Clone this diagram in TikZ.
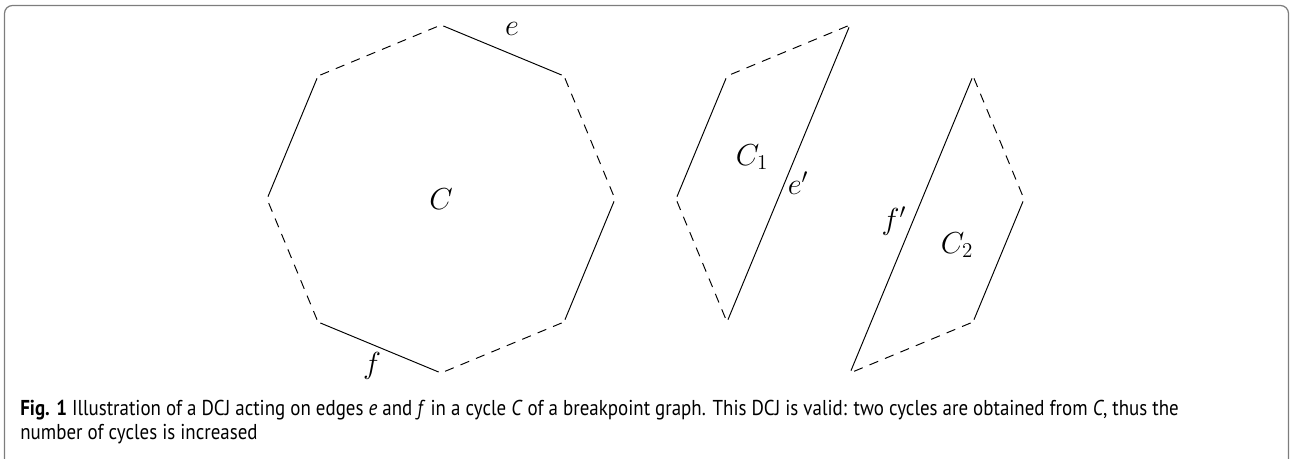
\documentclass[tikz,border=0pt]{standalone}
\usepackage{fontspec}
\setsansfont[FakeStretch=0.88]{PT Sans}
\usepackage{tikz}
\usetikzlibrary{positioning}
\definecolor{framegray}{RGB}{125,125,125}
\tikzset{
  vtx/.style={circle, inner sep=0pt, minimum size=2.5pt},
  solidedge/.style={line width=0.55pt, color=black},
  dashedge/.style={line width=0.55pt, color=black, dash pattern=on 5.3pt off 4.2pt},
  cyclbl/.style={font=\fontsize{17}{20}\selectfont, inner sep=1pt},
  captxt/.style={font=\sffamily\fontsize{12.25}{14}\selectfont, inner sep=0pt, anchor=base west}
}

\begin{document}
\begin{tikzpicture}[x=0.02cm, y=-0.02cm]
  \useasboundingbox (0,0) rectangle (1290,459);

  % Frame round the figure
  \draw[framegray, line width=0.7pt, rounded corners=0.16cm]
    (4.5,459) -- (4.5,5.5) -- (1288.5,5.5) -- (1288.5,459);

  % Cycle C (regular octagon)
  \node[vtx] (a1) at (441,25) {};
  \node[vtx] (a2) at (564,76) {};
  \node[vtx] (a3) at (615,199) {};
  \node[vtx] (a4) at (564,322) {};
  \node[vtx] (a5) at (441,373) {};
  \node[vtx] (a6) at (318,322) {};
  \node[vtx] (a7) at (267,199) {};
  \node[vtx] (a8) at (318,76) {};

  \draw[solidedge] (a1) -- (a2);
  \draw[dashedge] (a2) -- (a3);
  \draw[solidedge] (a3) -- (a4);
  \draw[dashedge] (a4) -- (a5);
  \draw[solidedge] (a5) -- (a6);
  \draw[dashedge] (a6) -- (a7);
  \draw[solidedge] (a7) -- (a8);
  \draw[dashedge] (a8) -- (a1);

  \node[cyclbl] (lblC) at (441,199) {$C$};
  \node[cyclbl] (lble) at (512,29) {$e$};
  \node[cyclbl] (lblf) at (372,366) {$f$};

  % Cycle C1 after the DCJ
  \node[vtx] (b1) at (850,25) {};
  \node[vtx] (b2) at (727,76) {};
  \node[vtx] (b3) at (676,199) {};
  \node[vtx] (b4) at (727,322) {};

  \draw[dashedge] (b1) -- (b2);
  \draw[solidedge] (b2) -- (b3);
  \draw[dashedge] (b3) -- (b4);
  \draw[solidedge] (b4) -- (b1);

  \node[cyclbl] (lblC1) at (752,157) {$C_1$};
  \node[cyclbl] (lblep) at (798,183) {$e'$};

  % Cycle C2 after the DCJ
  \node[vtx] (d1) at (973,76) {};
  \node[vtx] (d2) at (1024,199) {};
  \node[vtx] (d3) at (973,322) {};
  \node[vtx] (d4) at (850,373) {};

  \draw[dashedge] (d1) -- (d2);
  \draw[solidedge] (d2) -- (d3);
  \draw[dashedge] (d3) -- (d4);
  \draw[solidedge] (d4) -- (d1);

  \node[cyclbl] (lblfp) at (894,221) {$f'$};
  \node[cyclbl] (lblC2) at (957,245) {$C_2$};

  % Caption
  \node[captxt] (cap1) at (20,415) {\textbf{Fig. 1} Illustration of a DCJ acting on edges \emph{e} and \emph{f} in a cycle \emph{C} of a breakpoint graph. This DCJ is valid: two cycles are obtained from \emph{C}, thus the};
  \node[captxt] (cap2) at (20,439) {number of cycles is increased};
\end{tikzpicture}
\end{document}
